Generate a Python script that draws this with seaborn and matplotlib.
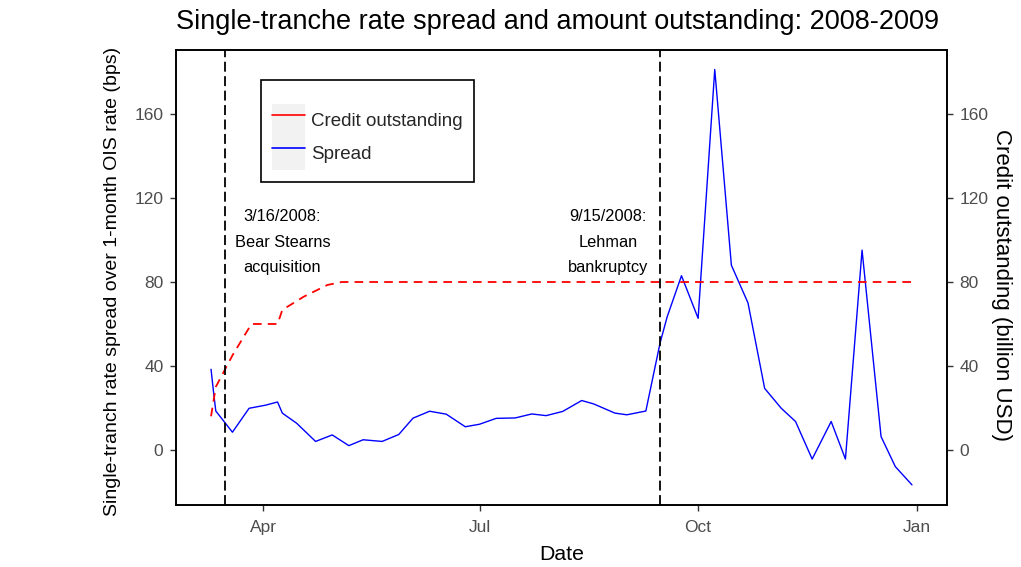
import matplotlib
matplotlib.use("Agg")
import matplotlib.pyplot as plt
import matplotlib.dates as mdates
import seaborn as sns
import pandas as pd
from matplotlib.patches import Patch
from matplotlib.lines import Line2D
from matplotlib.legend_handler import HandlerTuple

# ---------------- data ----------------
spread_dates = [
    "2008-03-10", "2008-03-11", "2008-03-12", "2008-03-19", "2008-03-26",
    "2008-04-02", "2008-04-07", "2008-04-09", "2008-04-15", "2008-04-23",
    "2008-04-30", "2008-05-07", "2008-05-13", "2008-05-21", "2008-05-28",
    "2008-06-03", "2008-06-10", "2008-06-17", "2008-06-25", "2008-07-01",
    "2008-07-08", "2008-07-16", "2008-07-23", "2008-07-29", "2008-08-05",
    "2008-08-13", "2008-08-18", "2008-08-27", "2008-09-01", "2008-09-09",
    "2008-09-15", "2008-09-18", "2008-09-24", "2008-10-01", "2008-10-08",
    "2008-10-15", "2008-10-22", "2008-10-29", "2008-11-05", "2008-11-11",
    "2008-11-18", "2008-11-26", "2008-12-02", "2008-12-09", "2008-12-17",
    "2008-12-23", "2008-12-30",
]
spread_bps = [
    38.4, 28.0, 18.5, 8.4, 19.8,
    21.3, 22.8, 17.5, 12.7, 4.0,
    7.1, 2.0, 4.8, 4.0, 7.3,
    15.1, 18.4, 17.0, 11.0, 12.2,
    15.0, 15.2, 17.1, 16.3, 18.3,
    23.5, 21.9, 17.5, 16.7, 18.5,
    51.0, 63.5, 83.0, 62.7, 181.3,
    88.0, 70.0, 29.3, 19.8, 13.5,
    -4.4, 13.5, -4.4, 95.2, 6.3,
    -8.0, -16.7,
]

credit_dates = [
    "2008-03-10", "2008-03-12", "2008-03-19", "2008-03-27", "2008-04-07",
    "2008-04-09", "2008-04-18", "2008-04-28", "2008-05-04", "2008-12-30",
]
credit_bn = [16.0, 30.0, 45.0, 60.0, 60.0, 66.7, 73.0, 78.6, 80.0, 80.0]

event_dates = ["2008-03-16", "2008-09-15"]
event_labels = ["3/16/2008:\nBear Stearns\nacquisition", "9/15/2008:\nLehman\nbankruptcy"]
event_label_dates = ["2008-04-09", "2008-08-24"]
event_label_y = [99, 99]

y_ticks = [0, 40, 80, 120, 160]
series_names = ["Credit outstanding", "Spread"]

# ---------------- frames ----------------
spread_df = pd.DataFrame({"date": pd.to_datetime(spread_dates), "value": spread_bps})
credit_df = pd.DataFrame({"date": pd.to_datetime(credit_dates), "value": credit_bn})

# ---------------- style ----------------
sns.set_theme(style="white")
plt.rcParams["font.family"] = ["Liberation Sans", "DejaVu Sans"]

RED = "#FF0000"
BLUE = "#0000FF"
TICKC = "#4D4D4D"

fig = plt.figure(figsize=(10.21, 5.67), dpi=100)
ax = fig.add_axes([176 / 1021, 1 - 505 / 567, (947 - 176) / 1021, (505 - 50) / 567])

sns.lineplot(data=spread_df, x="date", y="value", ax=ax, color=BLUE, lw=1.0, legend=False)
sns.lineplot(data=credit_df, x="date", y="value", ax=ax, color=RED, lw=1.3, legend=False)
ax.lines[-1].set_dashes((4.8, 3.4))

for d in event_dates:
    ax.axvline(pd.Timestamp(d), color="black", lw=1.3, dashes=(5.5, 2.5))

for d, y, t in zip(event_label_dates, event_label_y, event_labels):
    ax.text(pd.Timestamp(d), y, t, ha="center", va="center", fontsize=11.8,
            linespacing=1.85, color="black")

# limits (ggplot-like 5% expansion)
xmin = min(spread_df["date"].min(), credit_df["date"].min())
xmax = max(spread_df["date"].max(), credit_df["date"].max())
pad = (xmax - xmin) * 0.05
ax.set_xlim(xmin - pad, xmax + pad)
ylo, yhi = -26.3, 190.6
ax.set_ylim(ylo, yhi)

ax.xaxis.set_major_locator(mdates.MonthLocator(bymonth=[1, 4, 7, 10]))
ax.xaxis.set_major_formatter(mdates.DateFormatter("%b"))
ax.set_yticks(y_ticks)

ax2 = ax.twinx()
ax2.set_ylim(ylo, yhi)
ax2.set_yticks(y_ticks)

for a in (ax, ax2):
    a.tick_params(axis="both", which="major", direction="out", length=4.5, width=1,
                  color="#333333", labelsize=12.5, labelcolor=TICKC, pad=4.5)
    for s in a.spines.values():
        s.set_color("black")
        s.set_linewidth(1.2)
ax.tick_params(axis="x", bottom=True, pad=6.5)
ax.tick_params(axis="y", left=True)
ax2.tick_params(axis="y", right=True)

ax.set_xlabel("Date", fontsize=15.3, color="black", labelpad=7)
ax.set_ylabel("Single-tranch rate spread over 1-month OIS rate (bps)", fontsize=14,
              color="black", labelpad=10)
ax.yaxis.label.set_y(0.491)
ax2.set_ylabel("Credit outstanding (billion USD)", fontsize=16, color="black",
               rotation=270, labelpad=17)
ax2.yaxis.label.set_y(0.4835)

fig.text(176 / 1021, 1 - 22 / 567, "Single-tranche rate spread and amount outstanding: 2008-2009",
         fontsize=19.5, ha="left", va="center", color="black")

# legend with grey key backgrounds
handles = [
    (Patch(facecolor="#F2F2F2", edgecolor="none"), Line2D([], [], color=RED, lw=1.2)),
    (Patch(facecolor="#F2F2F2", edgecolor="none"), Line2D([], [], color=BLUE, lw=1.2)),
]
leg = ax.legend(handles, series_names, handler_map={tuple: HandlerTuple(ndivide=1, pad=0)},
                loc="upper left", bbox_to_anchor=(0.110, 0.934), title=" ",
                fontsize=13.5, title_fontsize=9, frameon=True, fancybox=False,
                handlelength=1.75, handleheight=2.35, handletextpad=0.3,
                borderpad=0.62, labelspacing=0.0, borderaxespad=0)
leg.get_frame().set_edgecolor("black")
leg.get_frame().set_linewidth(1.2)
leg.get_frame().set_facecolor("white")
leg.get_frame().set_alpha(1)

fig.savefig("out.png", dpi=100)
